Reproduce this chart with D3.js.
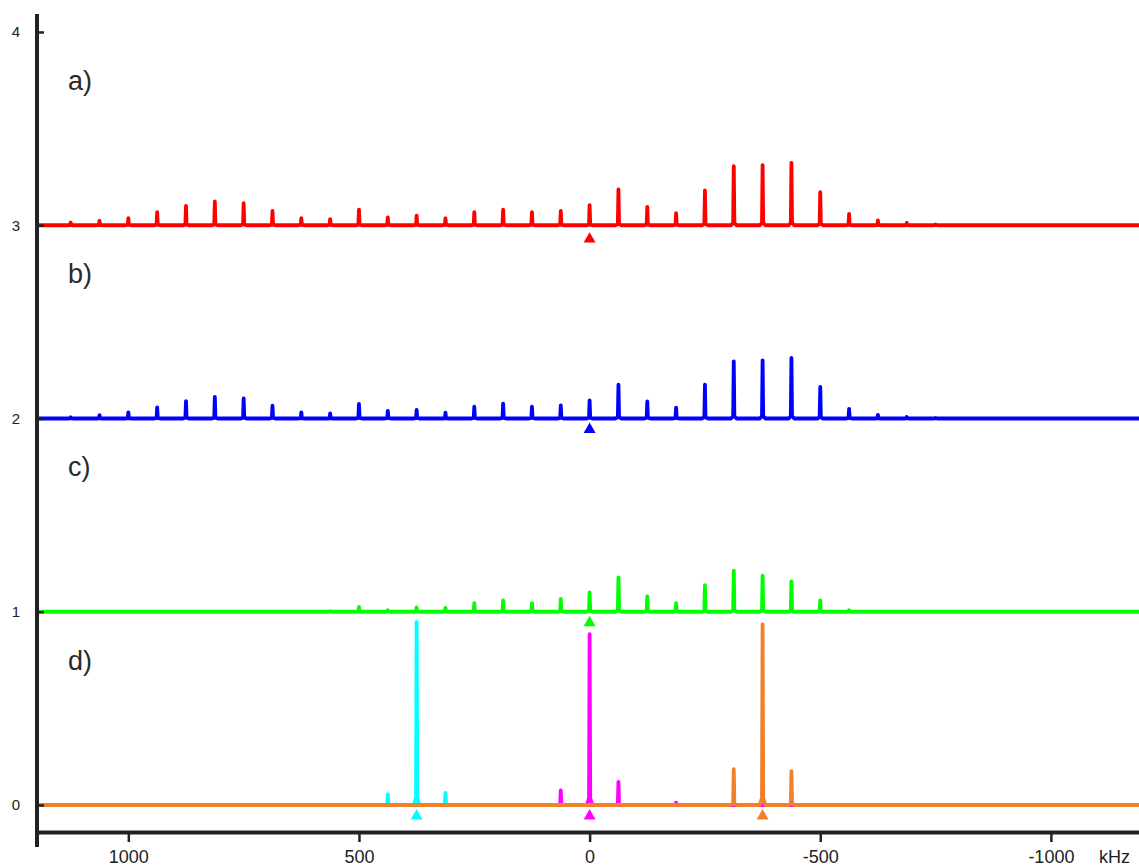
<!DOCTYPE html>
<html>
<head>
<meta charset="utf-8">
<script src="https://cdn.jsdelivr.net/npm/d3@7"></script>
<style>
  html, body { margin: 0; padding: 0; background: #fff; }
  svg { display: block; font-family: "Liberation Sans", Arial, Helvetica, sans-serif; }
</style>
</head>
<body>
<svg id="chart" width="1139" height="866"></svg>
<script>
// ---------- DATA ----------
// sideband positions (kHz), spacing 62.5 kHz
const positionsA = [1125, 1062.5, 1000, 937.5, 875, 812.5, 750, 687.5, 625, 562.5, 500, 437.5, 375, 312.5, 250, 187.5, 125, 62.5, 0, -62.5, -125, -187.5, -250, -312.5, -375, -437.5, -500, -562.5, -625, -687.5, -750];
const heightsA = [0.014, 0.023, 0.037, 0.068, 0.100, 0.123, 0.114, 0.074, 0.037, 0.032, 0.081, 0.040, 0.050, 0.036, 0.068, 0.081, 0.068, 0.074, 0.104, 0.185, 0.095, 0.062, 0.180, 0.306, 0.311, 0.323, 0.171, 0.059, 0.025, 0.012, 0.004];
const heightsB = [0.006, 0.017, 0.032, 0.057, 0.090, 0.112, 0.104, 0.066, 0.032, 0.026, 0.075, 0.039, 0.044, 0.030, 0.061, 0.077, 0.061, 0.068, 0.094, 0.175, 0.088, 0.056, 0.175, 0.296, 0.301, 0.313, 0.163, 0.050, 0.019, 0.008, 0.003];
const positionsC = [562.5, 500, 437.5, 375, 312.5, 250, 187.5, 125, 62.5, 0, -62.5, -125, -187.5, -250, -312.5, -375, -437.5, -500, -562.5, -625];
const heightsC = [0.003, 0.025, 0.008, 0.023, 0.020, 0.045, 0.059, 0.045, 0.066, 0.100, 0.178, 0.080, 0.045, 0.137, 0.213, 0.187, 0.157, 0.059, 0.008, 0.002];
const positionsCyan = [437.5, 375, 312.5];
const heightsCyan = [0.056, 0.947, 0.062];
const positionsMagenta = [62.5, 0, -62.5, -187.5];
const heightsMagenta = [0.076, 0.884, 0.120, 0.012];
const positionsOrange = [-312.5, -375, -437.5];
const heightsOrange = [0.185, 0.934, 0.175];

const offsets = [3, 2, 1, 0, 0, 0];          // vertical stacking of the traces
const markerKHz = [0, 0, 0, 375, 0, -375];   // carrier markers (kHz)
const panelLabels = ["a)", "b)", "c)", "d)"];
const panelLabelLevels = [3.70, 2.70, 1.70, 0.70];
const yTicks = [0, 1, 2, 3, 4];
const xTicks = [1000, 500, 0, -500, -1000];
const xUnit = "kHz";

// ---------- STYLE / LAYOUT ----------
const colors = ["#ff0000", "#0000ff", "#00ff00", "#00ffff", "#ff00ff", "#f0802a"];
const axisColor = "#222";
const xDomain = [1198, -1191];
const svg = d3.select("#chart");
const x = d3.scaleLinear().domain(xDomain).range([37, 1139]);
const y = d3.scaleLinear().domain([-0.1397, 4.093]).range([832, 14]);

const series = [
  { pos: positionsA, h: heightsA },
  { pos: positionsA, h: heightsB },
  { pos: positionsC, h: heightsC },
  { pos: positionsCyan, h: heightsCyan },
  { pos: positionsMagenta, h: heightsMagenta },
  { pos: positionsOrange, h: heightsOrange }
];

// line shape of each narrow peak (kHz half widths)
function tracePoints(s) {
  const pts = [[xDomain[0], 0]];
  const idx = d3.range(s.pos.length).sort((a, b) => s.pos[b] - s.pos[a]);
  idx.forEach(i => {
    const p = s.pos[i], h = s.h[i];
    pts.push([p + 6, 0], [p + 1.3, h * 0.04], [p, h], [p - 1.3, h * 0.04], [p - 6, 0]);
  });
  pts.push([xDomain[1], 0]);
  return pts;
}

const g = svg.append("g");

series.forEach((s, k) => {
  const off = offsets[k];
  const line = d3.line().x(d => x(d[0])).y(d => y(d[1] + off));
  g.append("path")
    .attr("d", line(tracePoints(s)))
    .attr("fill", "none")
    .attr("stroke", colors[k])
    .attr("stroke-width", 3.8)
    .attr("stroke-linejoin", "round")
    .attr("stroke-linecap", "butt");
});

// markers (triangles below baseline)
const tri = d3.symbol().type(d3.symbolTriangle).size(62);
series.forEach((s, k) => {
  const dy = k === 0 ? 0.072 : 0.057;
  g.append("path")
    .attr("d", tri())
    .attr("transform", `translate(${x(markerKHz[k])},${y(offsets[k] - dy)})`)
    .attr("fill", colors[k]);
});

// panel labels
panelLabels.forEach((t, i) => {
  svg.append("text")
    .attr("x", 68)
    .attr("y", y(panelLabelLevels[i]))
    .attr("font-size", 27)
    .attr("fill", "#2a2a2a")
    .text(t);
});

// y axis
const yAxis = d3.axisLeft(y).tickValues(yTicks).tickSizeInner(-7).tickSizeOuter(0).tickPadding(17).tickFormat(d => String(d));
const ya = svg.append("g").attr("transform", `translate(${x(xDomain[0])},0)`).call(yAxis);
ya.select(".domain").remove();
ya.selectAll(".tick line").attr("stroke", axisColor).attr("stroke-width", 2.5);
ya.selectAll(".tick text").attr("font-size", 15).attr("fill", "#222").attr("font-family", "Liberation Sans, Arial, sans-serif");
svg.append("line")
  .attr("x1", x(xDomain[0])).attr("x2", x(xDomain[0]))
  .attr("y1", y(4.093)).attr("y2", y(-0.217))
  .attr("stroke", axisColor).attr("stroke-width", 4);

// x axis
const xAxis = d3.axisBottom(x).tickValues(xTicks).tickSizeInner(10).tickSizeOuter(0).tickPadding(8).tickFormat(d => String(d));
const xa = svg.append("g").attr("transform", `translate(0,${y(-0.1397)})`).call(xAxis);
xa.select(".domain").attr("stroke", axisColor).attr("stroke-width", 4);
xa.selectAll(".tick line").attr("stroke", axisColor).attr("stroke-width", 2.5);
xa.selectAll(".tick text").attr("font-size", 18).attr("fill", "#222").attr("font-family", "Liberation Sans, Arial, sans-serif");
svg.append("text")
  .attr("x", 1099)
  .attr("y", y(-0.1397) + 18)
  .attr("dy", "0.71em")
  .attr("font-size", 18)
  .attr("fill", "#222")
  .text(xUnit);

g.lower();
</script>
</body>
</html>
